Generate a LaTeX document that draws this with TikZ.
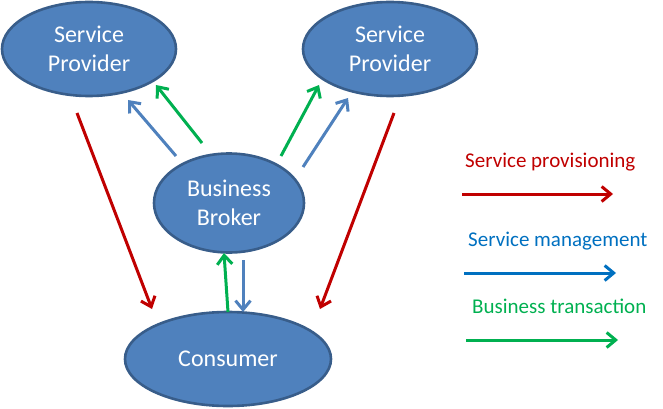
\documentclass[tikz,border=0pt]{standalone}
\usepackage{fontspec}
\setmainfont{Carlito}
\usetikzlibrary{shapes.geometric,arrows.meta}
\definecolor{nodefill}{HTML}{4F81BD}
\definecolor{nodeline}{HTML}{385D8A}
\definecolor{provred}{HTML}{C00000}
\definecolor{mgmtblue}{HTML}{4F81BD}
\definecolor{legblue}{HTML}{0070C0}
\definecolor{transgreen}{HTML}{00B050}
\tikzset{
  entity/.style={ellipse, draw=nodeline, fill=nodefill, line width=2.6pt, inner sep=0pt,
    text=white, align=center, font=\fontsize{24}{29}\selectfont},
  flow/.style={line width=3pt, -{Straight Barb[length=9pt,width=15pt,line width=3pt]}},
  legtext/.style={anchor=base west, inner sep=0pt, font=\fontsize{21}{24}\selectfont},
}
\begin{document}
\begin{tikzpicture}[x=1pt,y=-1pt]
\useasboundingbox (0,0) rectangle (663,409);
\node[entity, minimum width=174pt, minimum height=94pt] (sp1) at (89,49) {Service\\Provider};
\node[entity, minimum width=174pt, minimum height=94pt] (sp2) at (390,49) {Service\\Provider};
\node[entity, minimum width=150pt, minimum height=99pt] (bb) at (229,203) {Business\\Broker};
\node[entity, minimum width=206pt, minimum height=94pt] (co) at (228,359) {Consumer};
% arrow end points
\coordinate (r1s) at (77,113);  \coordinate (r1e) at (152,309);
\coordinate (r2s) at (394,113); \coordinate (r2e) at (320,309);
\coordinate (b1s) at (176,156); \coordinate (b1e) at (128,100);
\coordinate (g1s) at (202,143); \coordinate (g1e) at (156,85);
\coordinate (g2s) at (281,156); \coordinate (g2e) at (319,85);
\coordinate (b2s) at (303,167); \coordinate (b2e) at (348,98);
\coordinate (g3s) at (228,312); \coordinate (g3e) at (224,253);
\coordinate (b3s) at (243,260); \coordinate (b3e) at (243,312);
\draw[flow, provred] (r1s) -- (r1e);
\draw[flow, provred] (r2s) -- (r2e);
\draw[flow, mgmtblue] (b1s) -- (b1e);
\draw[flow, transgreen] (g1s) -- (g1e);
\draw[flow, transgreen] (g2s) -- (g2e);
\draw[flow, mgmtblue] (b2s) -- (b2e);
\draw[flow, transgreen] (g3s) -- (g3e);
\draw[flow, mgmtblue] (b3s) -- (b3e);
% legend
\node[legtext, text=provred] (l1) at (465,167) {Service provisioning};
\node[legtext, text=legblue] (l2) at (468,246) {Service management};
\node[legtext, text=transgreen] (l3) at (472,313) {Business transaction};
\coordinate (la1) at (462,194); \coordinate (lb1) at (613,194);
\coordinate (la2) at (464,273); \coordinate (lb2) at (616,273);
\coordinate (la3) at (466,340); \coordinate (lb3) at (618,340);
\draw[flow, provred] (la1) -- (lb1);
\draw[flow, legblue] (la2) -- (lb2);
\draw[flow, transgreen] (la3) -- (lb3);
\end{tikzpicture}
\end{document}
